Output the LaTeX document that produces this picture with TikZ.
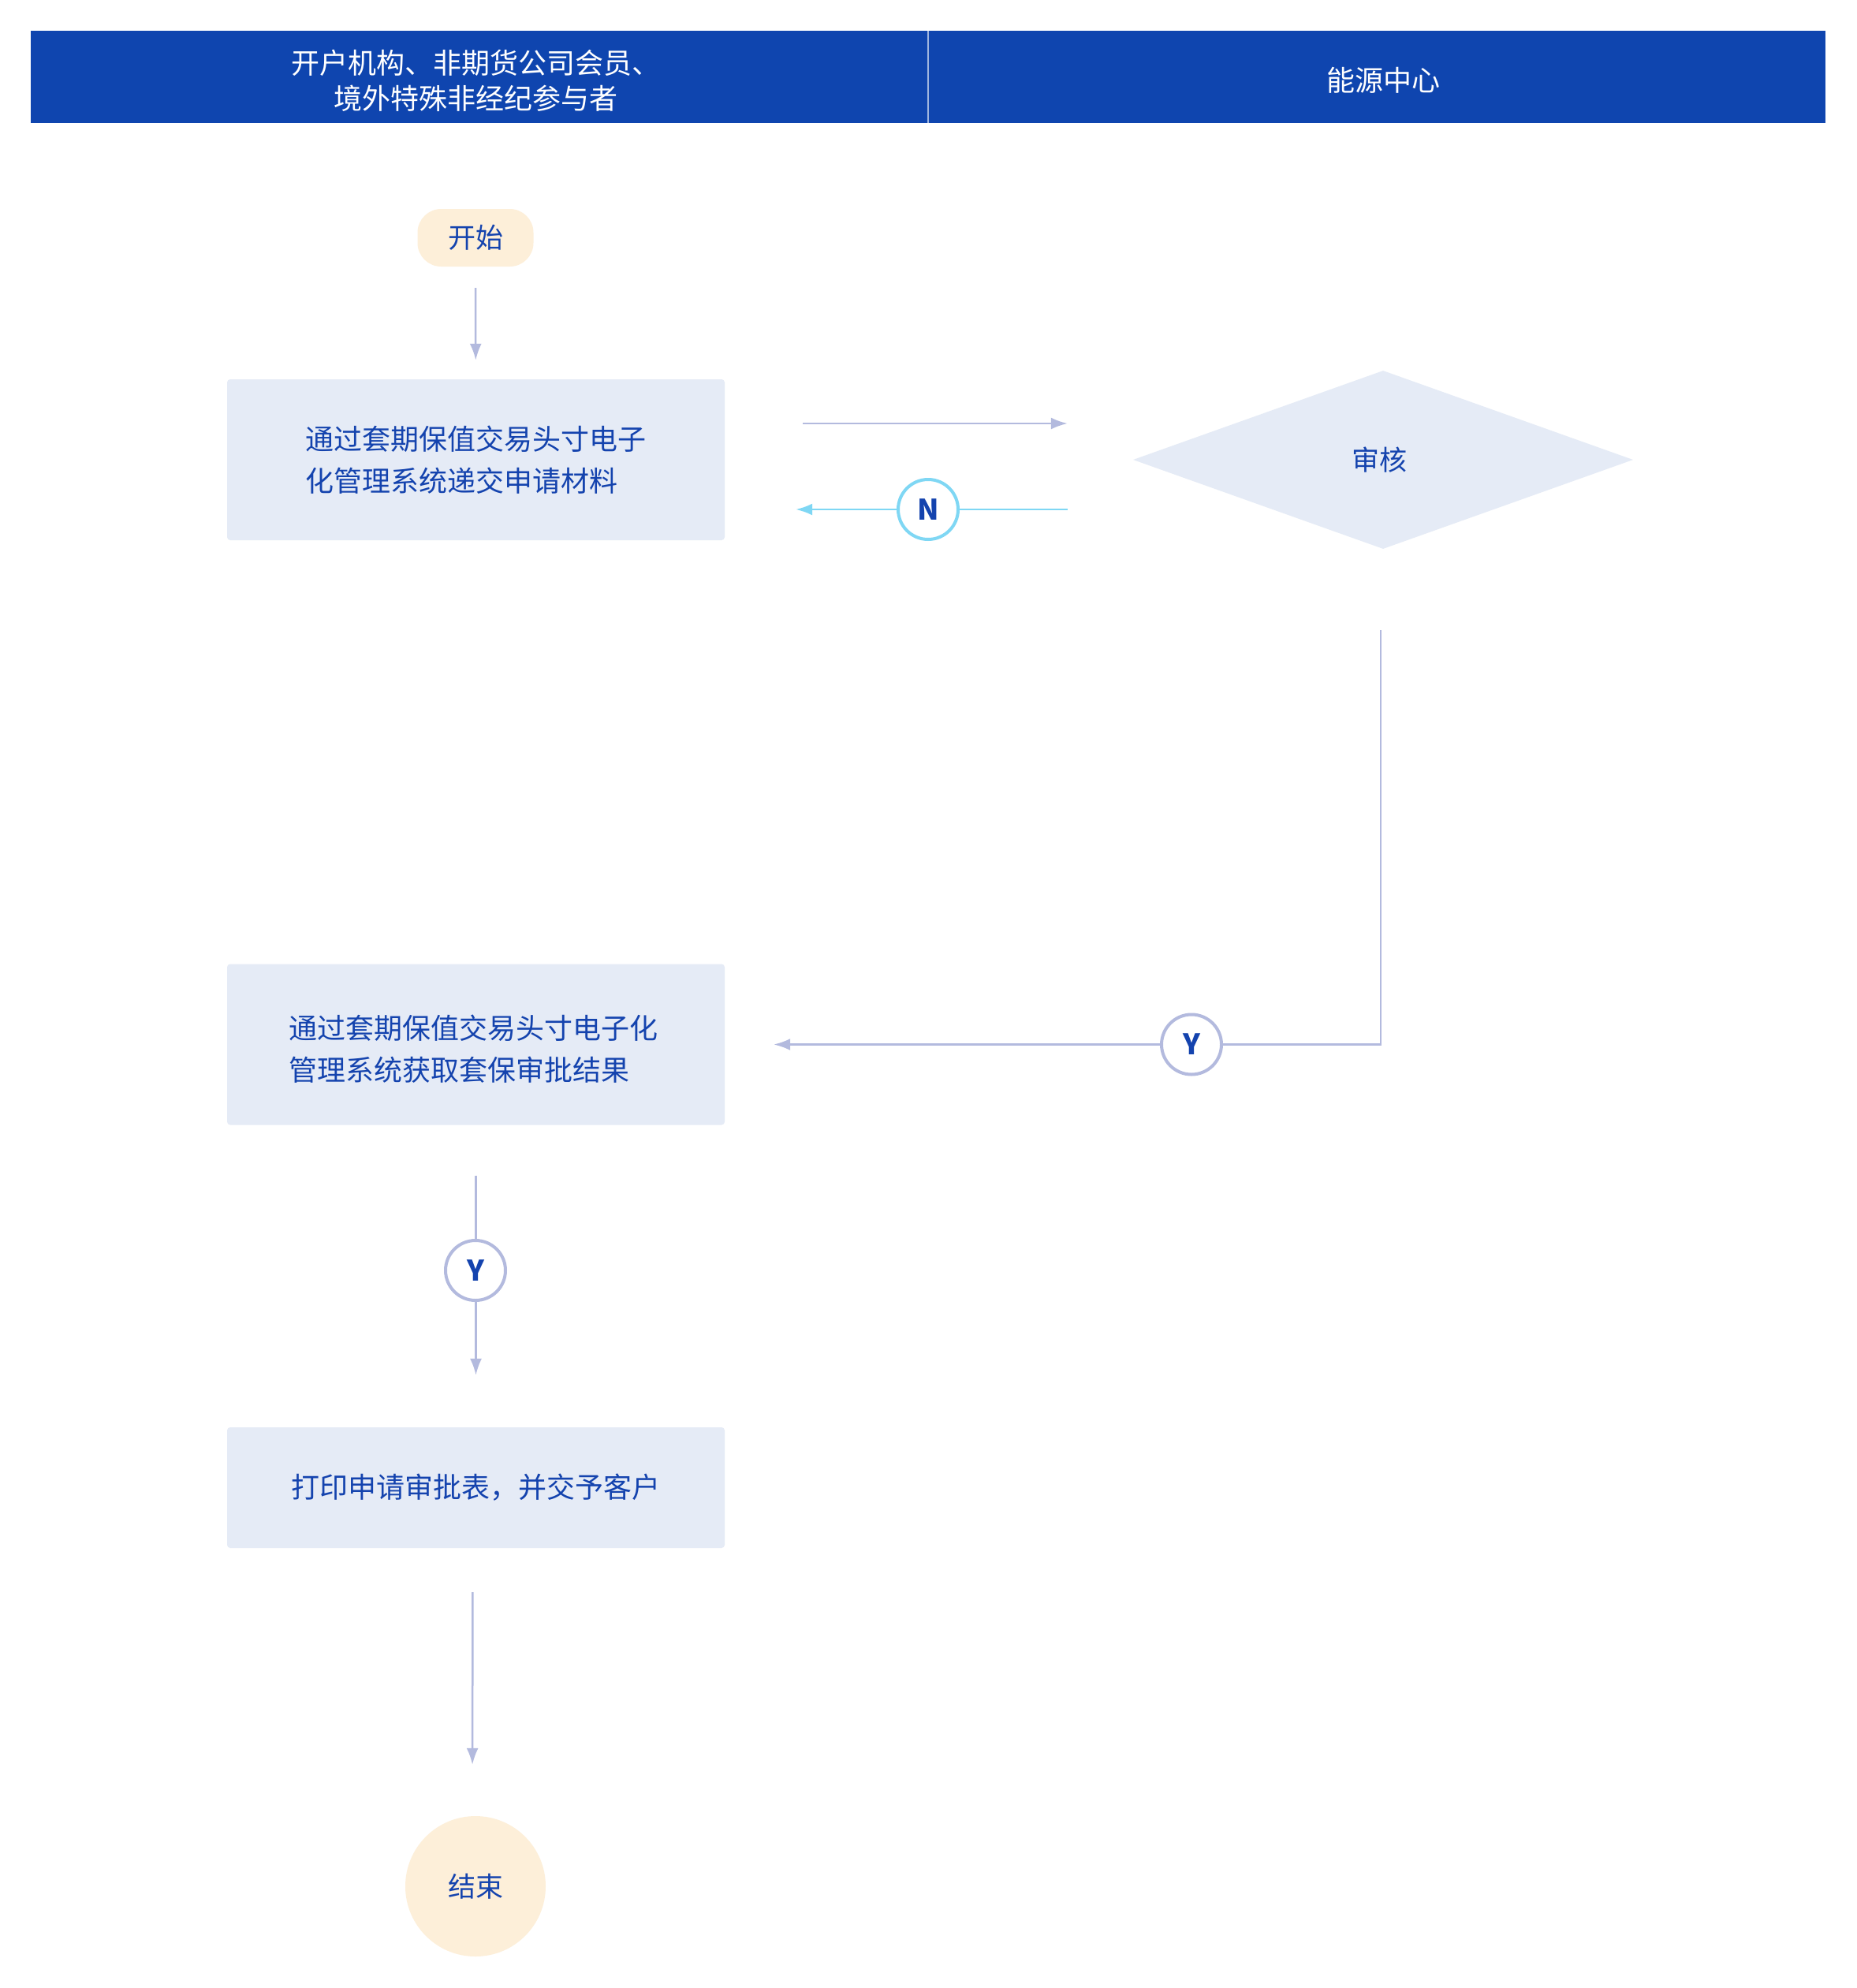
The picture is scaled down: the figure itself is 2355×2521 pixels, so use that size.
\documentclass[tikz,border=0pt]{standalone}
\usepackage{fontspec}
\setmainfont{Noto Sans CJK SC}
\usetikzlibrary{shapes.geometric,arrows.meta}
\definecolor{hdrblue}{HTML}{0F45AF}
\definecolor{txtblue}{HTML}{1443AE}
\definecolor{boxfill}{HTML}{E5EBF6}
\definecolor{termfill}{HTML}{FDEFD9}
\definecolor{arrcol}{HTML}{B3BADE}
\definecolor{ncol}{HTML}{7FD7F4}
\tikzset{
  hdr/.style={rectangle, fill=hdrblue, draw=none, minimum width=1138pt, minimum height=117pt, inner sep=0pt, text=white, align=center, font=\fontsize{36pt}{45pt}\selectfont},
  hdrtext/.style={text=white, align=center, inner sep=0pt, font=\fontsize{36pt}{45pt}\selectfont},
  procbox/.style={rectangle, fill=boxfill, draw=none, rounded corners=4pt, minimum width=631pt, minimum height=204pt, inner sep=0pt, text=txtblue, align=left, font=\fontsize{36pt}{53pt}\selectfont},
  proctext/.style={inner sep=0pt, text=txtblue, align=left, font=\fontsize{36pt}{53pt}\selectfont},
  startbox/.style={rectangle, fill=termfill, draw=none, rounded corners=30pt, minimum width=147pt, minimum height=73pt, inner sep=0pt, text=txtblue, font=\fontsize{35pt}{42pt}\selectfont},
  endcirc/.style={circle, fill=termfill, draw=none, minimum size=178pt, inner sep=0pt, text=txtblue, font=\fontsize{35pt}{42pt}\selectfont},
  decis/.style={diamond, fill=boxfill, draw=none, aspect=2.8, minimum width=634pt, minimum height=226pt, inner sep=0pt, text=txtblue, font=\fontsize{35pt}{42pt}\selectfont},
  yn/.style={circle, fill=white, draw=arrcol, line width=4pt, minimum size=76pt, inner sep=0pt, text=txtblue, font=\fontsize{36pt}{40pt}\selectfont\bfseries},
  nn/.style={yn, draw=ncol},
  conn/.style={draw=arrcol, line width=2.5pt},
  arr/.style={conn, -{Latex[length=21pt,width=15pt]}},
  narr/.style={draw=ncol, line width=2.5pt, -{Latex[length=21pt,width=15pt]}},
}
\begin{document}
\begin{tikzpicture}[x=1pt,y=-1pt]
\useasboundingbox[fill=white] (0,0) rectangle (2355,2521);
% header
\node[hdr] (h1) at (608,97.5) {};
\node[hdr] (h2) at (1746,97.5) {};
\node[hdrtext] (h1t) at (603,102) {开户机构、非期货公司会员、\\境外特殊非经纪参与者};
\node[hdrtext] (h2t) at (1754,102) {能源中心};
\draw[draw=white!60!hdrblue, line width=1.5pt] (h1.north east) -- (h1.south east);
% nodes
\node[startbox] (start) at (603,301.5) {开始};
\node[procbox] (b1) at (603.5,583) {通过套期保值交易头寸电子\\化管理系统递交申请材料};
\node[decis] (d) at (1754,583) {\hspace*{-10pt}审核};
\node[procbox] (b2) at (603.5,1324.5) {};
\node[proctext] (b2t) at (600,1330) {通过套期保值交易头寸电子化\\管理系统获取套保审批结果};
\node[procbox, minimum height=153pt, align=center] (b3) at (603.5,1886.5) {打印申请审批表，并交予客户};
\node[endcirc] (end) at (603,2392) {结束};
% connectors
\draw[arr, shorten <=27pt, shorten >=24pt] (start) -- (b1);
\draw[arr, shorten <=99pt, shorten >=83pt] ([yshift=46pt]b1.east) -- ([yshift=46pt]b1.east -| d.west);
\draw[narr, shorten <=83pt, shorten >=90pt] ([yshift=-63pt]b1.east -| d.west) -- ([yshift=-63pt]b1.east);
\node[nn] (n) at (1177,646) {N};
\draw[arr, shorten <=103pt, shorten >=62pt] ([xshift=-3pt]d.south) -- ([xshift=-3pt]d.south |- b2.east) -- (b2.east);
\node[yn] (y1) at (1511,1324.5) {Y};
\draw[arr, shorten <=64pt, shorten >=66pt] (b2.south) -- (b3.north);
\node[yn] (y2) at (603,1611) {Y};
\draw[arr, shorten <=56pt, shorten >=65pt] ([xshift=-4pt]b3.south) -- ([xshift=-4pt]end.north);
\end{tikzpicture}
\end{document}
